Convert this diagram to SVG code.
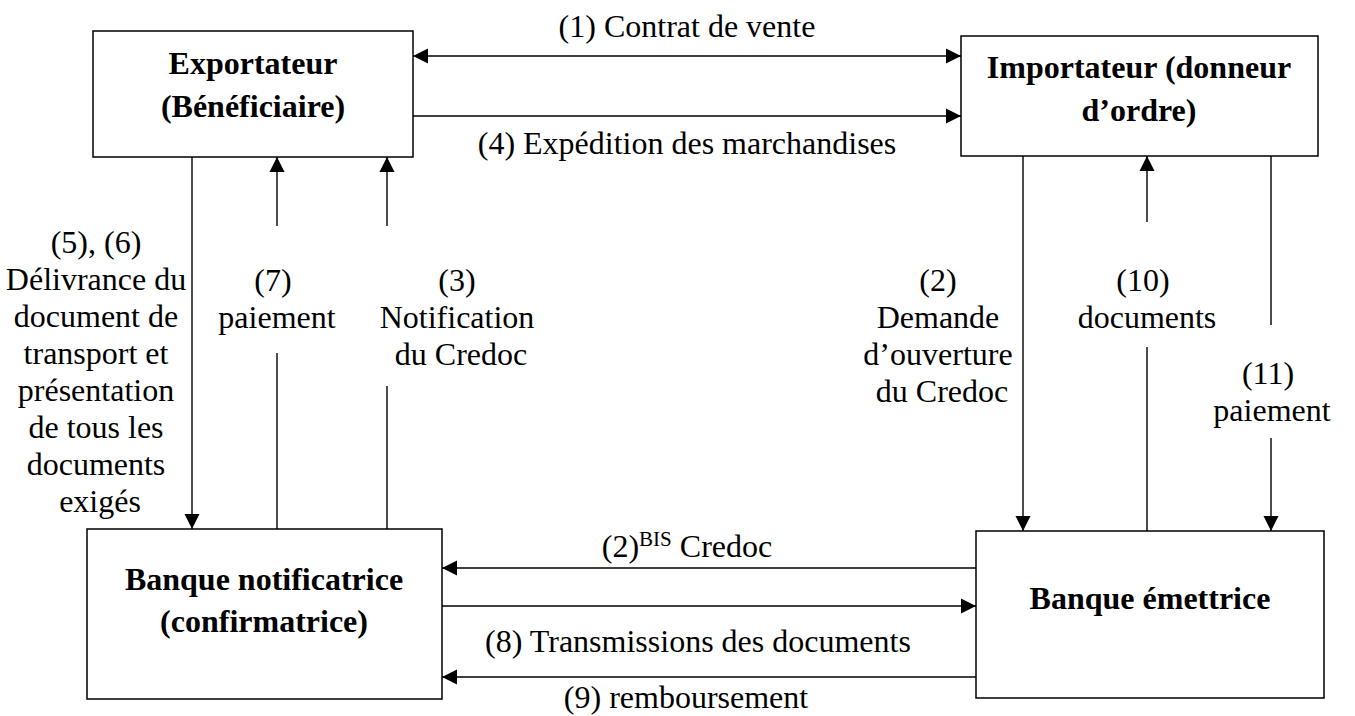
<svg xmlns="http://www.w3.org/2000/svg" width="1355" height="716" viewBox="0 0 1355 716">
  <style>
    .box { fill: #ffffff; stroke: #000000; stroke-width: 1.5; }
    .title { font-family: "Liberation Serif", "Times New Roman", serif; font-weight: bold; font-size: 32px; text-anchor: middle; fill: #000000; }
    .lbl { font-family: "Liberation Serif", "Times New Roman", serif; font-size: 32px; text-anchor: middle; fill: #000000; }
    .sup { font-size: 21px; }
    .ln { stroke: #000000; stroke-width: 1.4; fill: none; }
    .arr { marker-end: url(#head); }
    .both { marker-start: url(#head); marker-end: url(#head); }
  </style>
  <defs>
    <marker id="head" markerUnits="userSpaceOnUse" markerWidth="16" markerHeight="16" refX="15" refY="8" orient="auto-start-reverse">
      <path d="M0,0.5 L15,8 L0,15.5 z" fill="#000000"/>
    </marker>
  </defs>
  <rect width="1355" height="716" fill="#ffffff"/>

  <!-- parties and banks -->
  <g id="exportateur">
    <rect class="box" x="93" y="31" width="320" height="126"/>
    <text class="title" x="253" y="74">Exportateur</text>
    <text class="title" x="253" y="117">(Bénéficiaire)</text>
  </g>
  <g id="importateur">
    <rect class="box" x="961" y="36" width="357" height="120"/>
    <text class="title" x="1139" y="78">Importateur (donneur</text>
    <text class="title" x="1139" y="121">d’ordre)</text>
  </g>
  <g id="banque-notificatrice">
    <rect class="box" x="87" y="529" width="355" height="170"/>
    <text class="title" x="264" y="590">Banque notificatrice</text>
    <text class="title" x="264" y="632">(confirmatrice)</text>
  </g>
  <g id="banque-emettrice">
    <rect class="box" x="976" y="531" width="348" height="167"/>
    <text class="title" x="1150" y="609">Banque émettrice</text>
  </g>

  <!-- flows between the parties -->
  <g id="connectors">
    <!-- (1) contrat de vente -->
    <line class="ln both" x1="413" y1="56" x2="961" y2="56"/>
    <text class="lbl" x="687" y="37">(1) Contrat de vente</text>
    <!-- (4) expédition -->
    <line class="ln arr" x1="413" y1="116" x2="961" y2="116"/>
    <text class="lbl" x="687" y="154">(4) Expédition des marchandises</text>

    <!-- (5), (6) exportateur to banque notificatrice -->
    <line class="ln arr" x1="192" y1="157" x2="192" y2="529"/>
    <text class="lbl" x="100">
      <tspan x="100" y="253">(5), (6)</tspan>
      <tspan x="100" y="290">Délivrance du</tspan>
      <tspan x="100" y="327">document de</tspan>
      <tspan x="100" y="364">transport et</tspan>
      <tspan x="100" y="401">présentation</tspan>
      <tspan x="100" y="438">de tous les</tspan>
      <tspan x="100" y="475">documents</tspan>
      <tspan x="100" y="512">exigés</tspan>
    </text>

    <!-- (7) paiement -->
    <line class="ln" x1="277" y1="529" x2="277" y2="353"/>
    <line class="ln arr" x1="277" y1="226" x2="277" y2="157"/>
    <text class="lbl">
      <tspan x="277" y="291">(7)</tspan>
      <tspan x="277" y="328">paiement</tspan>
    </text>

    <!-- (3) notification -->
    <line class="ln" x1="387" y1="529" x2="387" y2="386"/>
    <line class="ln arr" x1="387" y1="226" x2="387" y2="157"/>
    <text class="lbl">
      <tspan x="461" y="291">(3)</tspan>
      <tspan x="461" y="328">Notification</tspan>
      <tspan x="461" y="365">du Credoc</tspan>
    </text>

    <!-- (2) demande d'ouverture -->
    <line class="ln arr" x1="1023" y1="156" x2="1023" y2="531"/>
    <text class="lbl">
      <tspan x="942" y="291">(2)</tspan>
      <tspan x="942" y="328">Demande</tspan>
      <tspan x="942" y="365">d’ouverture</tspan>
      <tspan x="942" y="402">du Credoc</tspan>
    </text>

    <!-- (10) documents -->
    <line class="ln" x1="1147" y1="531" x2="1147" y2="347"/>
    <line class="ln arr" x1="1147" y1="222" x2="1147" y2="156"/>
    <text class="lbl">
      <tspan x="1147" y="291">(10)</tspan>
      <tspan x="1147" y="328">documents</tspan>
    </text>

    <!-- (11) paiement -->
    <line class="ln" x1="1271" y1="156" x2="1271" y2="325"/>
    <line class="ln arr" x1="1271" y1="438" x2="1271" y2="531"/>
    <text class="lbl">
      <tspan x="1272" y="384">(11)</tspan>
      <tspan x="1272" y="421">paiement</tspan>
    </text>

    <!-- (2)BIS credoc -->
    <line class="ln arr" x1="976" y1="568" x2="442" y2="568"/>
    <text class="lbl" x="687" y="557">(2)<tspan class="sup" dy="-11">BIS</tspan><tspan dy="11"> Credoc</tspan></text>

    <!-- (8) transmission des documents -->
    <line class="ln arr" x1="442" y1="606" x2="976" y2="606"/>
    <text class="lbl" x="698" y="652">(8) Transmissions des documents</text>

    <!-- (9) remboursement -->
    <line class="ln arr" x1="976" y1="677" x2="442" y2="677"/>
    <text class="lbl" x="686" y="708">(9) remboursement</text>
  </g>
</svg>
